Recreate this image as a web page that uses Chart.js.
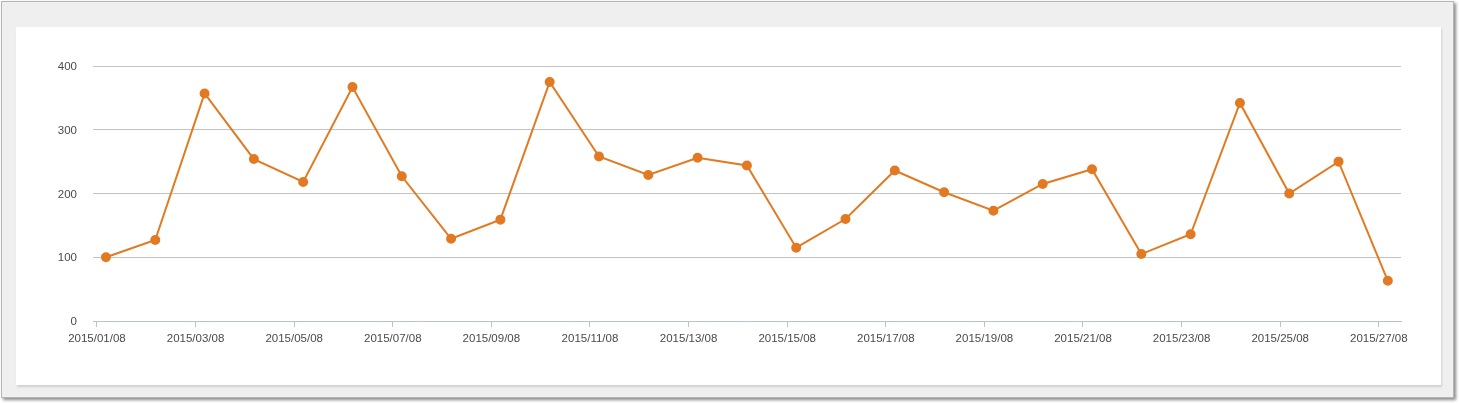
<!DOCTYPE html>
<html>
<head>
<meta charset="utf-8">
<script src="https://cdn.jsdelivr.net/npm/chart.js@4"></script>
<style>
  html, body { margin: 0; padding: 0; background: #fff; }
  .frame {
    position: absolute; left: 1px; top: 1px; width: 1451px; height: 395px;
    border: 1px solid #b5b5b5; background: #efefef;
    box-shadow: 2px 2px 3px #8a8a8a;
  }
  .card {
    position: absolute; left: 14px; top: 25px; width: 1425px; height: 358px;
    background: #fff; box-shadow: 1px 2px 2px #d0d0d0;
  }
  canvas { display: block; }
</style>
</head>
<body>
<div class="frame">
  <div class="card">
    <canvas id="chart" width="1425" height="358"></canvas>
  </div>
</div>
<script>
// datas (dia/mês) e valores
const dates = [
  '2015/01/08', '2015/02/08', '2015/03/08', '2015/04/08', '2015/05/08', '2015/06/08',
  '2015/07/08', '2015/08/08', '2015/09/08', '2015/10/08', '2015/11/08', '2015/12/08',
  '2015/13/08', '2015/14/08', '2015/15/08', '2015/16/08', '2015/17/08', '2015/18/08',
  '2015/19/08', '2015/20/08', '2015/21/08', '2015/22/08', '2015/23/08', '2015/24/08',
  '2015/25/08', '2015/26/08', '2015/27/08'
];
const values = [
  100, 127, 357, 254, 218, 367, 227, 129, 159, 375, 258, 229, 256, 244,
  115, 160, 236, 202, 173, 215, 238, 105, 136, 342, 200, 250, 63
];
const yTicks = [0, 100, 200, 300, 400];

// os pontos ficam um pouco à direita da marca do dia (hora do registro)
const pointShift = 0.183;
const points = values.map((v, i) => ({ x: i + pointShift, y: v }));

const lineColor = '#e17a22';
const axisColor = '#b7c3cd';
const textColor = '#4a4a4a';

new Chart(document.getElementById('chart').getContext('2d'), {
  type: 'line',
  data: {
    datasets: [{
      label: 'Total',
      data: points,
      borderColor: lineColor,
      backgroundColor: lineColor,
      borderWidth: 2,
      pointRadius: 4,
      pointHoverRadius: 5,
      tension: 0
    }]
  },
  options: {
    responsive: false,
    animation: false,
    layout: { padding: { left: 0, right: 40, top: 39, bottom: 0 } },
    plugins: {
      legend: { display: false },
      tooltip: { enabled: false }
    },
    scales: {
      x: {
        type: 'linear',
        min: -0.08,
        max: 26.45,
        afterBuildTicks: (scale) => {
          scale.ticks = dates.map((d, i) => ({ value: i }));
        },
        afterFit: (scale) => { scale.height = 64; },
        ticks: {
          autoSkip: false,
          maxRotation: 0,
          padding: 5,
          color: textColor,
          font: { family: 'Liberation Sans, Arial', size: 11.5 },
          callback: (v) => (v % 2 === 0 ? dates[v] : '')
        },
        grid: {
          drawOnChartArea: false,
          drawTicks: true,
          tickLength: 6,
          tickColor: (ctx) => (ctx.tick && ctx.tick.value % 2 === 0 ? axisColor : 'rgba(0,0,0,0)')
        },
        border: { display: true, color: axisColor, width: 1 }
      },
      y: {
        min: 0,
        max: 400,
        afterBuildTicks: (scale) => {
          scale.ticks = yTicks.map(v => ({ value: v }));
        },
        afterFit: (scale) => { scale.width = 77; },
        ticks: {
          padding: 16,
          labelOffset: 1,
          color: textColor,
          font: { family: 'Liberation Sans, Arial', size: 11.5 }
        },
        grid: {
          drawTicks: false,
          color: (ctx) => (ctx.tick && ctx.tick.value === 0 ? 'rgba(0,0,0,0)' : '#c3c3c3')
        },
        border: { display: false }
      }
    }
  }
});
</script>
</body>
</html>
